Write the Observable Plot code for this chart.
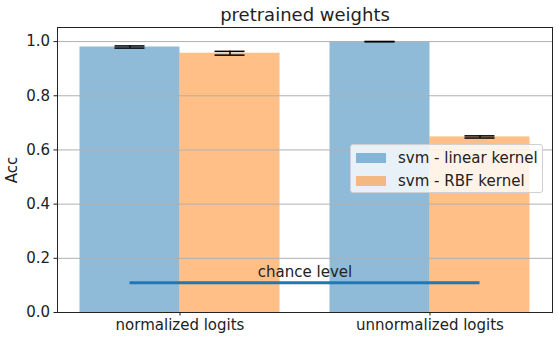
<!DOCTYPE html>
<html>
<head>
<meta charset="utf-8">
<script src="https://cdn.jsdelivr.net/npm/d3@7"></script>
<script src="https://cdn.jsdelivr.net/npm/@observablehq/plot@0.6"></script>
<style>
  body { margin: 0; background: #fff; }
  #wrap { position: relative; width: 558px; height: 341px; font-family: "DejaVu Sans", sans-serif; }
  #legend { position: absolute; left: 350px; top: 144px; width: 191px; height: 47px;
    background: rgba(255,255,255,0.8); border: 1px solid #d0d0d0; border-radius: 3px; }
  .row { position: absolute; left: 0; height: 20px; display: flex; align-items: center; font-size: 15px; color: #222; }
  .sw { width: 30px; height: 10px; margin-left: 5px; margin-right: 12px; }
</style>
</head>
<body>
<div id="wrap"></div>
<script>
const categories = ["normalized logits", "unnormalized logits"];
const seriesNames = ["svm - linear kernel", "svm - RBF kernel"];
const seriesColors = ["#1f77b4", "#ff7f0e"];
const linearAcc = [0.980, 1.000];
const linearErr = [0.004, 0.0005];
const rbfAcc = [0.957, 0.648];
const rbfErr = [0.007, 0.004];
const chanceLevel = 0.11;
const chanceLabel = "chance level";
const yTicks = [0, 0.2, 0.4, 0.6, 0.8, 1.0];
const title = "pretrained weights";
const yLabel = "Acc";

const barW = 0.4;
const bars = [];
categories.forEach((c, i) => {
  bars.push({cat: c, s: 0, x1: i - barW, x2: i, v: linearAcc[i], e: linearErr[i]});
  bars.push({cat: c, s: 1, x1: i, x2: i + barW, v: rbfAcc[i], e: rbfErr[i]});
});
bars.forEach(b => { b.xc = (b.x1 + b.x2) / 2; });

const chart = Plot.plot({
  width: 558, height: 341,
  marginLeft: 57, marginRight: 6, marginTop: 27, marginBottom: 29,
  style: {fontFamily: "DejaVu Sans, sans-serif", fontSize: "15px", color: "#222", background: "#fff"},
  x: {domain: [-0.49, 1.49], axis: null},
  y: {domain: [0, 1.052], axis: null},
  marks: [
    Plot.rect(bars, {x1: "x1", x2: "x2", y1: 0, y2: "v", fill: d => seriesColors[d.s], fillOpacity: 0.5}),
    Plot.gridY(yTicks, {stroke: "#b0b0b0", strokeOpacity: 1, strokeWidth: 1}),
    Plot.ruleX(bars, {x: "xc", y1: d => d.v - d.e, y2: d => d.v + d.e, stroke: "black", strokeWidth: 1.5}),
    Plot.ruleY(bars, {y: d => d.v - d.e, x1: d => d.xc - 0.06, x2: d => d.xc + 0.06, stroke: "black", strokeWidth: 1.5}),
    Plot.ruleY(bars, {y: d => d.v + d.e, x1: d => d.xc - 0.06, x2: d => d.xc + 0.06, stroke: "black", strokeWidth: 1.5}),
    Plot.ruleY([chanceLevel], {x1: -0.2, x2: 1.2, stroke: "#1f77b4", strokeWidth: 3}),
    Plot.text([chanceLabel], {x: 0.5, y: chanceLevel, dy: -11, textAnchor: "middle", lineAnchor: "middle", fontSize: 15, fill: "#222"}),
    Plot.axisY({ticks: yTicks, tickFormat: d => d.toFixed(1), tickSize: 3.5, tickPadding: 4, label: null, fontSize: 15, stroke: "#222"}),
    Plot.axisX({ticks: [0, 1], tickFormat: d => categories[d], tickSize: 3.5, tickPadding: 3, label: null, fontSize: 15, stroke: "#222"}),
    Plot.frame({stroke: "#222", strokeWidth: 1}),
    Plot.text([title], {frameAnchor: "top", dy: -12, textAnchor: "middle", lineAnchor: "middle", fontSize: 18, fill: "#222"}),
    Plot.text([yLabel], {frameAnchor: "left", dx: -45, rotate: -90, textAnchor: "middle", lineAnchor: "middle", fontSize: 15, fill: "#222"})
  ]
});
const wrap = document.getElementById("wrap");
wrap.appendChild(chart);

const legend = document.createElement("div");
legend.id = "legend";
seriesNames.forEach((n, i) => {
  const row = document.createElement("div");
  row.className = "row";
  row.style.top = (3 + i * 23) + "px";
  const sw = document.createElement("div");
  sw.className = "sw";
  sw.style.background = seriesColors[i];
  sw.style.opacity = 0.5;
  const t = document.createElement("span");
  t.textContent = n;
  row.appendChild(sw); row.appendChild(t);
  legend.appendChild(row);
});
wrap.appendChild(legend);
</script>
</body>
</html>
